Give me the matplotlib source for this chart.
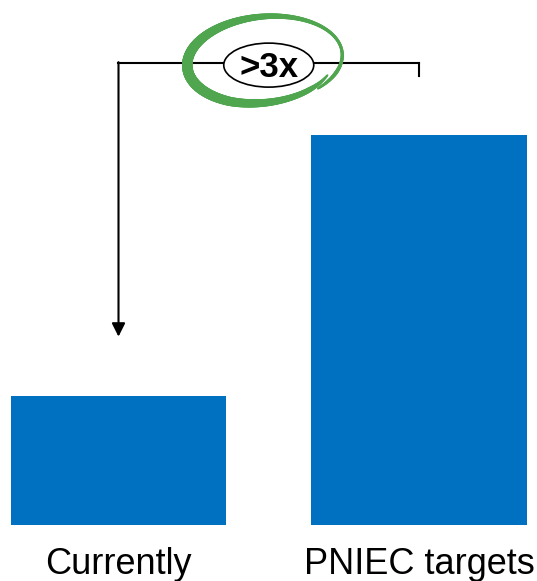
import numpy as np
import matplotlib.pyplot as plt
from matplotlib.patches import Ellipse
from matplotlib.collections import LineCollection

plt.rcParams['font.family'] = ['Liberation Sans', 'DejaVu Sans']

# Dados
categories = ['Currently', 'PNIEC targets']
values = [1.0, 3.02]
multiplier_label = '>3x'

bar_color = '#0070C0'
loop_color = '#4FA64F'

fig = plt.figure(figsize=(5.37, 5.81), dpi=100)
# eixo ocupa a largura toda; base das barras a 56 px do fundo
ax = fig.add_axes([0, 56 / 581, 1, 525 / 581])
px_x = 300.5   # px por unidade em x
px_y = 129.0   # px por unidade em y
ax.set_xlim(-118.5 / px_x, (537 - 118.5) / px_x)
ax.set_ylim(0, 525 / px_y)

x = np.arange(len(categories))
ax.bar(x, values, width=215 / px_x, color=bar_color)

ax.set_xticks(x, categories)
ax.tick_params(axis='x', length=0, pad=16, labelsize=26)
ax.set_yticks([])
for s in ax.spines.values():
    s.set_visible(False)

# Colchete entre as barras
top = max(values) + 0.56
ax.plot([x[0], x[1]], [top, top], color='black', lw=1.5, clip_on=False)
ax.plot([x[1], x[1]], [top, top - 0.1], color='black', lw=1.5, clip_on=False)
ax.annotate('', xy=(x[0], values[0] + 0.46), xytext=(x[0], top + 0.008),
            arrowprops=dict(arrowstyle='-|>', color='black', lw=1.5,
                            mutation_scale=20, shrinkA=0, shrinkB=0))

# Elipse com o multiplicador
mid = (x[0] + x[1]) / 2
cy = top - 0.015
ax.add_patch(Ellipse((mid, cy), 90 / px_x, 44 / px_y, facecolor='white',
                     edgecolor='black', lw=1.2, zorder=3))
ax.text(mid, cy - 0.02, multiplier_label, ha='center', va='center', fontsize=25,
        fontweight='bold', zorder=4)

# Laço verde desenhado à mão em volta (offsets em px, y para baixo)
t = np.deg2rad(np.linspace(-40, 338, 400))
shrink = 1 - 0.08 * np.clip((t - np.deg2rad(250)) / np.deg2rad(88), 0, 1)
dx = 77 * np.cos(t) * shrink
dy = -44 * np.sin(t) * shrink
dx = dx - 0.2 * dy - 4
dy = dy - 5
lx = mid + dx / px_x
ly = cy - dy / px_y
pts = np.column_stack([lx, ly]).reshape(-1, 1, 2)
segs = np.concatenate([pts[:-1], pts[1:]], axis=1)
tm = t[:-1]
widths = 4.9 + 2.7 * np.cos(tm - np.deg2rad(200))
widths[:25] *= np.linspace(0.5, 1, 25)
widths[-25:] *= np.linspace(1, 0.5, 25)
lc = LineCollection(segs, linewidths=widths, colors=loop_color,
                    capstyle='round', zorder=5, clip_on=False)
ax.add_collection(lc)

fig.savefig('out.png', dpi=100)
